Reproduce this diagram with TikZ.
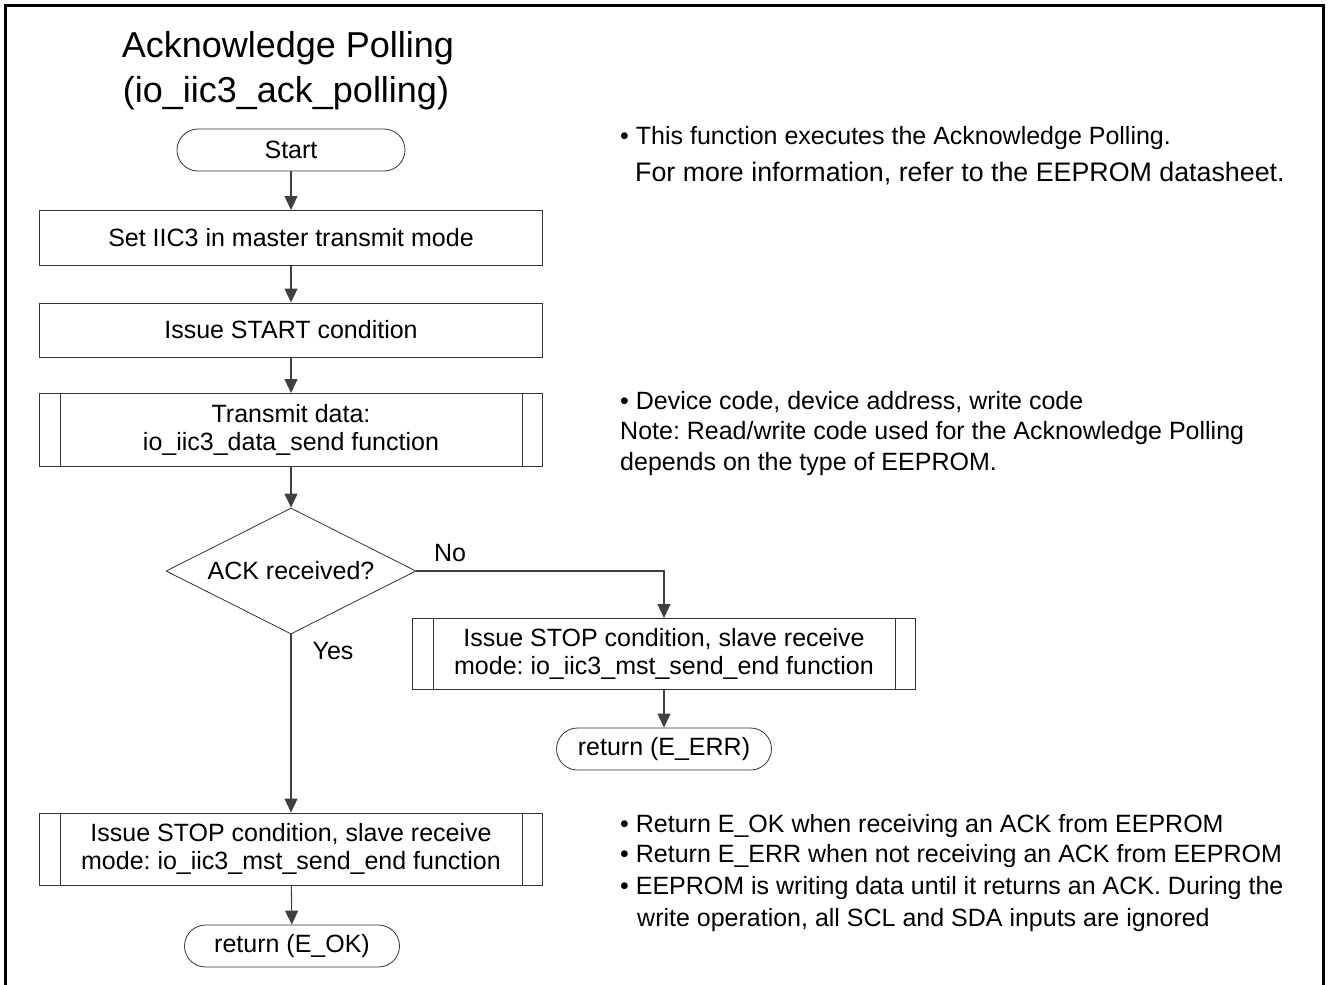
\documentclass[tikz,border=0pt]{standalone}
\usepackage{fontspec}
\setmainfont{Liberation Sans}
\usetikzlibrary{shapes.geometric,shapes.misc,arrows.meta}
\frenchspacing
\begin{document}
\begin{tikzpicture}[x=1pt,y=-1pt,
  every node/.style={font=\fontsize{25}{28}\selectfont\frenchspacing, text=black},
  conn/.style={draw=black!75, line width=1.1pt},
  arr/.style={conn, -{Triangle[width=13pt,length=14pt]}},
  proc/.style={draw=black!80, line width=1pt, rectangle, minimum width=503pt, inner sep=0pt, align=center},
  term/.style={draw=black!80, line width=0.8pt, rounded rectangle, minimum height=42pt, inner sep=0pt},
  dec/.style={draw=black!80, line width=0.8pt, diamond, aspect=2, minimum width=250pt, minimum height=126pt, inner sep=0pt},
  note/.style={anchor=base west, inner sep=0pt, align=left},
  ttl/.style={font=\fontsize{36}{42}\selectfont, inner sep=0pt},
  sublines/.style={draw=black!80, line width=1pt}
]
\useasboundingbox (0,0) rectangle (1328,985);
\draw[line width=3pt] (5,985) -- (5,5) -- (1323,5) -- (1323,985);

\node[ttl] (t1) at (288,48) {Acknowledge Polling};
\node[ttl] (t2) at (286,93) {(io\_iic3\_ack\_polling)};

\node[term, minimum width=228pt] (start) at (291,150) {Start};
\node[proc, minimum height=55pt] (b1) at (291,238) {Set IIC3 in master transmit mode};
\node[proc, minimum height=54pt] (b2) at (291,330) {Issue START condition};
\node[proc, minimum height=73pt] (b3) at (291,430) {Transmit data:\\io\_iic3\_data\_send function};
\node[dec] (dec) at (291,571) {ACK received?};
\node[proc, minimum height=71pt] (b4) at (664,654) {Issue STOP condition, slave receive\\mode: io\_iic3\_mst\_send\_end function};
\node[term, minimum width=215pt] (err) at (664,749) {return (E\_ERR)};
\node[proc, minimum height=72pt] (b5) at (291,849) {Issue STOP condition, slave receive\\mode: io\_iic3\_mst\_send\_end function};
\node[term, minimum width=215pt] (ok) at (292,946) {return (E\_OK)};

\foreach \n in {b3,b4,b5}{
  \draw[sublines] ([xshift=21pt]\n.north west) -- ([xshift=21pt]\n.south west);
  \draw[sublines] ([xshift=-21pt]\n.north east) -- ([xshift=-21pt]\n.south east);
}

\draw[arr] (start) -- (b1);
\draw[arr] (b1) -- (b2);
\draw[arr] (b2) -- (b3);
\draw[arr] (b3) -- (dec);
\draw[arr] (dec.east) -| (b4.north);
\draw[arr] (b4) -- (err);
\draw[arr] (dec.south) -- (b5.north);
\draw[arr] (b5) -- (ok);

\node (no) at (450,553) {No};
\node (yes) at (333,651) {Yes};

\node[note] (n1a) at (620,144) {\textbullet{} This function executes the Acknowledge Polling.};
\node[note, font=\fontsize{26.8}{30}\selectfont] (n1b) at (635,181) {For more information, refer to the EEPROM datasheet.};
\node[note] (n2a) at (620,409) {\textbullet{} Device code, device address, write code};
\node[note] (n2b) at (620,439) {Note: Read/write code used for the Acknowledge Polling};
\node[note] (n2c) at (620,470) {depends on the type of EEPROM.};
\node[note] (n3a) at (620,832) {\textbullet{} Return E\_OK when receiving an ACK from EEPROM};
\node[note] (n3b) at (620,862) {\textbullet{} Return E\_ERR when not receiving an ACK from EEPROM};
\node[note] (n3c) at (620,894) {\textbullet{} EEPROM is writing data until it returns an ACK. During the};
\node[note] (n3d) at (637,926) {write operation, all SCL and SDA inputs are ignored};
\end{tikzpicture}
\end{document}
